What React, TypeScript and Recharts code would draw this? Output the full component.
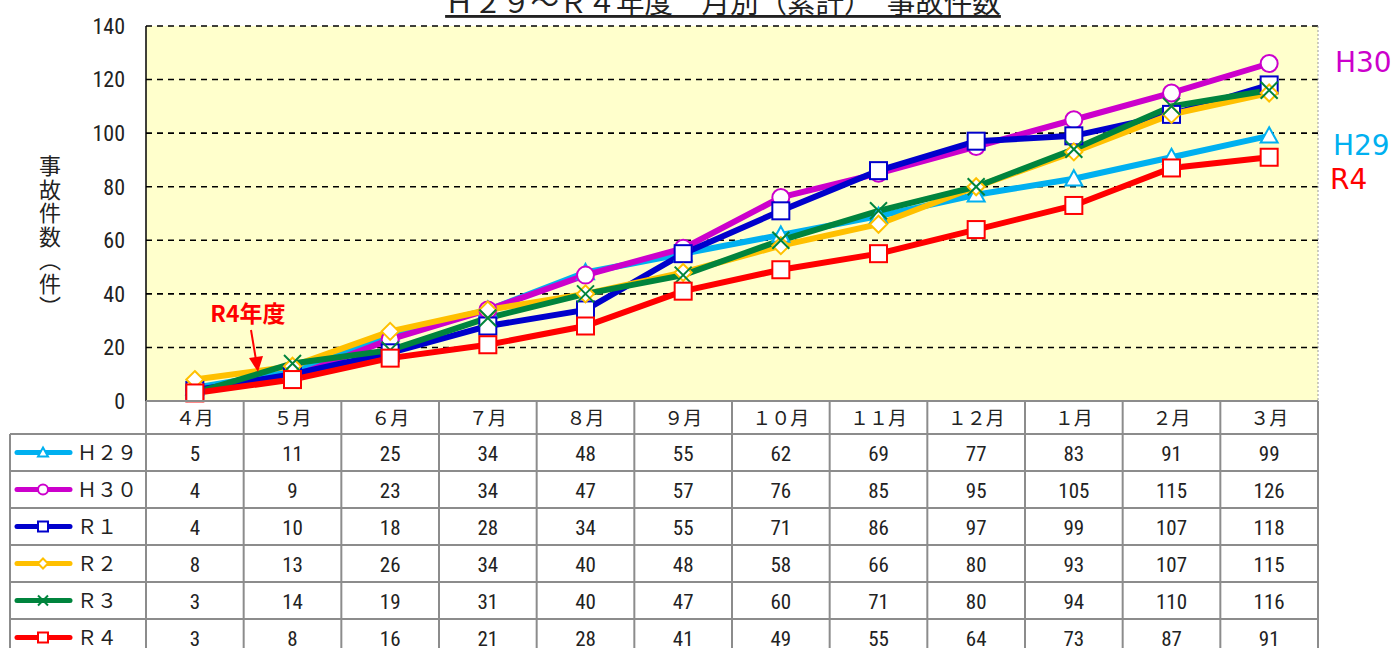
import { LineChart, Line, XAxis, YAxis, CartesianGrid } from 'recharts'

const months = ['４月', '５月', '６月', '７月', '８月', '９月', '１０月', '１１月', '１２月', '１月', '２月', '３月']
const h29 = [5, 11, 25, 34, 48, 55, 62, 69, 77, 83, 91, 99]
const h30 = [4, 9, 23, 34, 47, 57, 76, 85, 95, 105, 115, 126]
const r1 = [4, 10, 18, 28, 34, 55, 71, 86, 97, 99, 107, 118]
const r2 = [8, 13, 26, 34, 40, 48, 58, 66, 80, 93, 107, 115]
const r3 = [3, 14, 19, 31, 40, 47, 60, 71, 80, 94, 110, 116]
const r4 = [3, 8, 16, 21, 28, 41, 49, 55, 64, 73, 87, 91]
const yTicks = [0, 20, 40, 60, 80, 100, 120, 140]

const series = [
  { key: 'h29', label: 'Ｈ２９', values: h29, color: '#00B0F0', shape: 'triangle' },
  { key: 'h30', label: 'Ｈ３０', values: h30, color: '#CC00CC', shape: 'circle' },
  { key: 'r1', label: 'Ｒ１', values: r1, color: '#0000CC', shape: 'square' },
  { key: 'r2', label: 'Ｒ２', values: r2, color: '#FFC000', shape: 'diamond' },
  { key: 'r3', label: 'Ｒ３', values: r3, color: '#00843D', shape: 'cross' },
  { key: 'r4', label: 'Ｒ４', values: r4, color: '#FF0000', shape: 'square' },
]

const data = months.map((m, i) => {
  const row: any = { month: m }
  series.forEach(s => { row[s.key] = s.values[i] })
  return row
})

const PLOT_L = 146
const PLOT_R = 1318
const PLOT_T = 26
const PLOT_B = 401
const COL_W = (PLOT_R - PLOT_L) / 12
const HEAD_H = 33
const ROW_H = 37
const GRID = '#8c8c8c'
const JP = "'Noto Sans CJK JP', sans-serif"
const NUM = "'Liberation Sans Narrow', 'Roboto Condensed', 'Liberation Sans', sans-serif"

function Marker({ cx, cy, shape, color, size = 17 }: any) {
  if (cx == null || cy == null) return null
  const h = size / 2
  if (shape === 'circle') return <circle cx={cx} cy={cy} r={h} fill="#fff" stroke={color} strokeWidth={2} />
  if (shape === 'square') return <rect x={cx - h} y={cy - h} width={size} height={size} fill="#fff" stroke={color} strokeWidth={2} />
  if (shape === 'triangle') return <polygon points={`${cx},${cy - h} ${cx + h},${cy + h * 0.8} ${cx - h},${cy + h * 0.8}`} fill="#fff" stroke={color} strokeWidth={2} />
  if (shape === 'diamond') return <polygon points={`${cx},${cy - h} ${cx + h},${cy} ${cx},${cy + h} ${cx - h},${cy}`} fill="#fff" stroke={color} strokeWidth={2} />
  return (
    <g stroke={color} strokeWidth={2}>
      <line x1={cx - h} y1={cy - h} x2={cx + h} y2={cy + h} />
      <line x1={cx - h} y1={cy + h} x2={cx + h} y2={cy - h} />
    </g>
  )
}

export default function App() {
  return (
    <div style={{ position: 'absolute', left: 0, top: 0, width: 1394, height: 648, background: '#fff', overflow: 'hidden' }}>
      <LineChart width={1394} height={648} data={data} margin={{ top: PLOT_T, right: 1394 - PLOT_R, bottom: 648 - PLOT_B, left: 0 }}>
        <CartesianGrid vertical={false} stroke="#000" strokeWidth={1.6} strokeDasharray="6 5" fill="#FFFFCC" fillOpacity={1} />
        <XAxis dataKey="month" hide padding={{ left: COL_W / 2, right: COL_W / 2 }} />
        <YAxis
          width={PLOT_L}
          domain={[0, 140]}
          ticks={yTicks}
          interval={0}
          stroke="#000"
          strokeWidth={1.5}
          tickLine={false}
          tickSize={0}
          tickMargin={21}
          tick={{ fill: '#222', fontSize: 22, fontFamily: NUM }}
        />
        {series.map(s => (
          <Line
            key={s.key}
            dataKey={s.key}
            stroke={s.color}
            strokeWidth={6}
            isAnimationActive={false}
            dot={(p: any) => <Marker key={`${s.key}-${p.index}`} cx={p.cx} cy={p.cy} shape={s.shape} color={s.color} />}
          />
        ))}
      </LineChart>

      <svg width={1394} height={648} style={{ position: 'absolute', left: 0, top: 0, pointerEvents: 'none' }}>
        <text x={723} y={13} textAnchor="middle" fontSize={28.5} fontFamily={JP} fill="#222" textDecoration="underline">
          Ｈ２９～Ｒ４年度　月別（累計）　事故件数
        </text>
        <line x1={PLOT_R} y1={PLOT_T} x2={PLOT_R} y2={PLOT_B} stroke="#999" strokeDasharray="2 2" />

        <text x={248} y={322} textAnchor="middle" fontSize={23} fontWeight="bold" fontFamily={JP} fill="#FF0000">R4年度</text>
        <line x1={251} y1={330} x2={256} y2={360} stroke="#FF0000" strokeWidth={2} />
        <polygon points="249,358 263,356 258,372" fill="#FF0000" />

        <text x={1335} y={72} fontSize={28} fontFamily="'DejaVu Sans', sans-serif" fill="#CC00CC">H30</text>
        <text x={1333} y={155} fontSize={28} fontFamily="'DejaVu Sans', sans-serif" fill="#00B0F0">H29</text>
        <text x={1330} y={189} fontSize={28} fontFamily="'DejaVu Sans', sans-serif" fill="#FF0000">R4</text>

        {/* table grid */}
        <g stroke={GRID} strokeWidth={2}>
          <line x1={PLOT_L} y1={PLOT_B} x2={PLOT_R} y2={PLOT_B} />
          <line x1={10} y1={PLOT_B + HEAD_H} x2={PLOT_R} y2={PLOT_B + HEAD_H} />
          {series.map((s, i) => (
            <line key={s.key} x1={10} y1={PLOT_B + HEAD_H + (i + 1) * ROW_H} x2={PLOT_R} y2={PLOT_B + HEAD_H + (i + 1) * ROW_H} />
          ))}
          <line x1={10} y1={PLOT_B + HEAD_H} x2={10} y2={648} />
          {months.map((m, i) => (
            <line key={m} x1={PLOT_L + i * COL_W} y1={PLOT_B} x2={PLOT_L + i * COL_W} y2={648} />
          ))}
          <line x1={PLOT_R} y1={PLOT_B} x2={PLOT_R} y2={648} />
        </g>
        {months.map((m, i) => (
          <text key={m} x={PLOT_L + (i + 0.5) * COL_W} y={PLOT_B + 24} textAnchor="middle" fontSize={19} fontFamily={JP} fill="#222">{m}</text>
        ))}
        {series.map((s, r) => {
          const cy = PLOT_B + HEAD_H + (r + 0.5) * ROW_H
          return (
            <g key={s.key}>
              <line x1={17} y1={cy} x2={70} y2={cy} stroke={s.color} strokeWidth={5} strokeLinecap="round" />
              <Marker cx={43} cy={cy} shape={s.shape} color={s.color} size={10} />
              <text x={77} y={cy + 7} fontSize={20} fontFamily={JP} fill="#222">{s.label}</text>
              {s.values.map((v, i) => (
                <text key={i} x={PLOT_L + (i + 0.5) * COL_W} y={cy + 8} textAnchor="middle" fontSize={21} fontFamily={NUM} fill="#222">{v}</text>
              ))}
            </g>
          )
        })}
      </svg>

      <div style={{ position: 'absolute', left: 39, top: 155, writingMode: 'vertical-rl', fontSize: 22, letterSpacing: 1.5, fontFamily: JP, color: '#222', lineHeight: 1 }}>
        事故件数（件）
      </div>
    </div>
  )
}
